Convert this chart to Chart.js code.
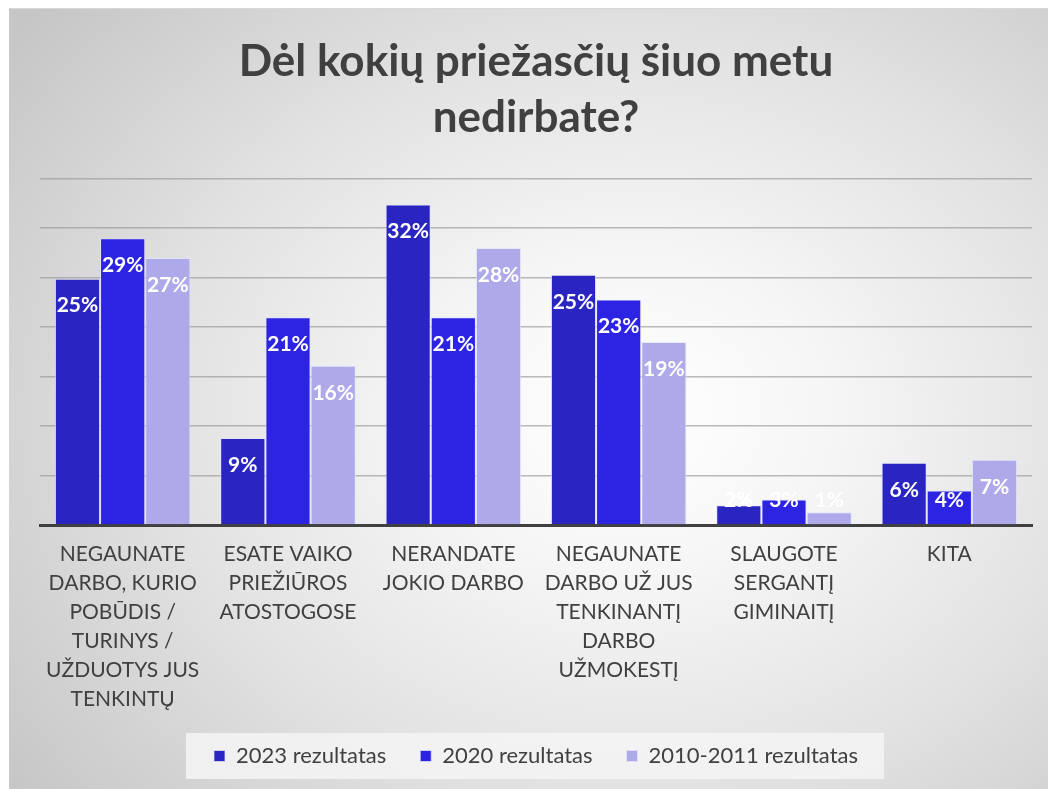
<!DOCTYPE html>
<html>
<head>
<meta charset="utf-8">
<script src="https://cdn.jsdelivr.net/npm/chart.js@4.4.1/dist/chart.umd.min.js"></script>
<style>
  html, body { margin: 0; padding: 0; background: #ffffff; }
  #frame {
    position: absolute; left: 9px; top: 8px; width: 1039px; height: 781px;
    background: radial-gradient(ellipse 75% 80% at 60% 52%, #ffffff 0%, #f6f6f6 25%, #e2e2e2 60%, #c6c6c6 100%);
    border-top: 1px solid #d8d8d8;
  }
  #wrap { position: absolute; left: 0; top: 0; width: 1048px; height: 789px; }
</style>
</head>
<body>
<div id="frame"></div>
<div id="wrap"><canvas id="c" width="1048" height="789"></canvas></div>
<script>
const titleLines = ['Dėl kokių priežasčių šiuo metu', 'nedirbate?'];
const categories = [
  ['NEGAUNATE', 'DARBO, KURIO', 'POBŪDIS /', 'TURINYS /', 'UŽDUOTYS JUS', 'TENKINTŲ'],
  ['ESATE VAIKO', 'PRIEŽIŪROS', 'ATOSTOGOSE'],
  ['NERANDATE', 'JOKIO DARBO'],
  ['NEGAUNATE', 'DARBO UŽ JUS', 'TENKINANTĮ', 'DARBO', 'UŽMOKESTĮ'],
  ['SLAUGOTE', 'SERGANTĮ', 'GIMINAITĮ'],
  ['KITA']
];
const seriesNames = ['2023 rezultatas', '2020 rezultatas', '2010-2011 rezultatas'];
const values2023 = [24.9, 8.8, 32.4, 25.3, 2.0, 6.3];
const values2020 = [29.0, 21.0, 21.0, 22.8, 2.6, 3.5];
const values2010 = [27.0, 16.1, 28.0, 18.5, 1.3, 6.6];
const yTicks = [0, 5, 10, 15, 20, 25, 30, 35];

const colors = ['#2a25c0', '#2c24e2', '#aeaaea'];

const dataLabelPlugin = {
  id: 'dataLabels',
  afterDatasetsDraw(chart) {
    const ctx = chart.ctx;
    ctx.save();
    ctx.font = 'bold 21px Lato';
    ctx.fillStyle = '#ffffff';
    ctx.textAlign = 'center';
    ctx.textBaseline = 'middle';
    chart.data.datasets.forEach((ds, di) => {
      const meta = chart.getDatasetMeta(di);
      meta.data.forEach((el, i) => {
        const v = ds.data[i];
        const y = Math.min(el.y + 27, el.base - 24);
        ctx.fillText(Math.round(v) + '%', el.x, y);
      });
    });
    ctx.restore();
  }
};

const legendBgPlugin = {
  id: 'legendBg',
  beforeDraw(chart) {
    const lg = chart.legend;
    if (!lg || !lg.legendHitBoxes || !lg.legendHitBoxes.length) return;
    const boxes = lg.legendHitBoxes;
    const left = Math.min(...boxes.map(b => b.left)) - 28;
    const right = Math.max(...boxes.map(b => b.left + b.width)) + 26;
    const top = Math.min(...boxes.map(b => b.top)) - 12;
    const bottom = Math.max(...boxes.map(b => b.top + b.height)) + 12;
    const ctx = chart.ctx;
    ctx.save();
    ctx.fillStyle = 'rgba(244,244,244,0.85)';
    ctx.fillRect(left, top, right - left, bottom - top);
    ctx.restore();
  }
};

new Chart(document.getElementById('c'), {
  type: 'bar',
  data: {
    labels: categories,
    datasets: [
      { label: seriesNames[0], data: values2023, backgroundColor: colors[0] },
      { label: seriesNames[1], data: values2020, backgroundColor: colors[1] },
      { label: seriesNames[2], data: values2010, backgroundColor: colors[2] }
    ].map(d => Object.assign(d, {
      borderColor: 'rgba(225,225,255,0.75)',
      borderWidth: 1,
      categoryPercentage: 0.82,
      barPercentage: 1.0
    }))
  },
  options: {
    responsive: false,
    animation: false,
    devicePixelRatio: 1,
    layout: { padding: { left: 40, right: 16, top: 8, bottom: 12 } },
    plugins: {
      title: {
        display: true,
        text: titleLines,
        color: '#404040',
        font: { family: 'Lato', size: 44, weight: 'bold', lineHeight: 1.27 },
        padding: { top: 26, bottom: 33 }
      },
      legend: {
        position: 'bottom',
        labels: {
          color: '#404040',
          font: { family: 'Lato', size: 22 },
          boxWidth: 11,
          boxHeight: 11,
          padding: 34
        }
      },
      tooltip: { enabled: false }
    },
    scales: {
      x: {
        grid: { display: false, drawTicks: false },
        border: { display: true, color: '#404040', width: 3 },
        afterFit(scale) { scale.height -= 18; },
        ticks: {
          color: '#404040',
          font: { family: 'Lato', size: 21, lineHeight: 1.38 },
          padding: 15,
          maxRotation: 0,
          autoSkip: false
        }
      },
      y: {
        min: yTicks[0],
        max: yTicks[yTicks.length - 1],
        afterBuildTicks(scale) { scale.ticks = yTicks.map(v => ({ value: v })); },
        ticks: { display: false },
        grid: { color: 'rgba(150,150,150,0.65)', lineWidth: 1.5, drawTicks: false },
        border: { display: false }
      }
    }
  },
  plugins: [legendBgPlugin, dataLabelPlugin]
});
</script>
</body>
</html>
